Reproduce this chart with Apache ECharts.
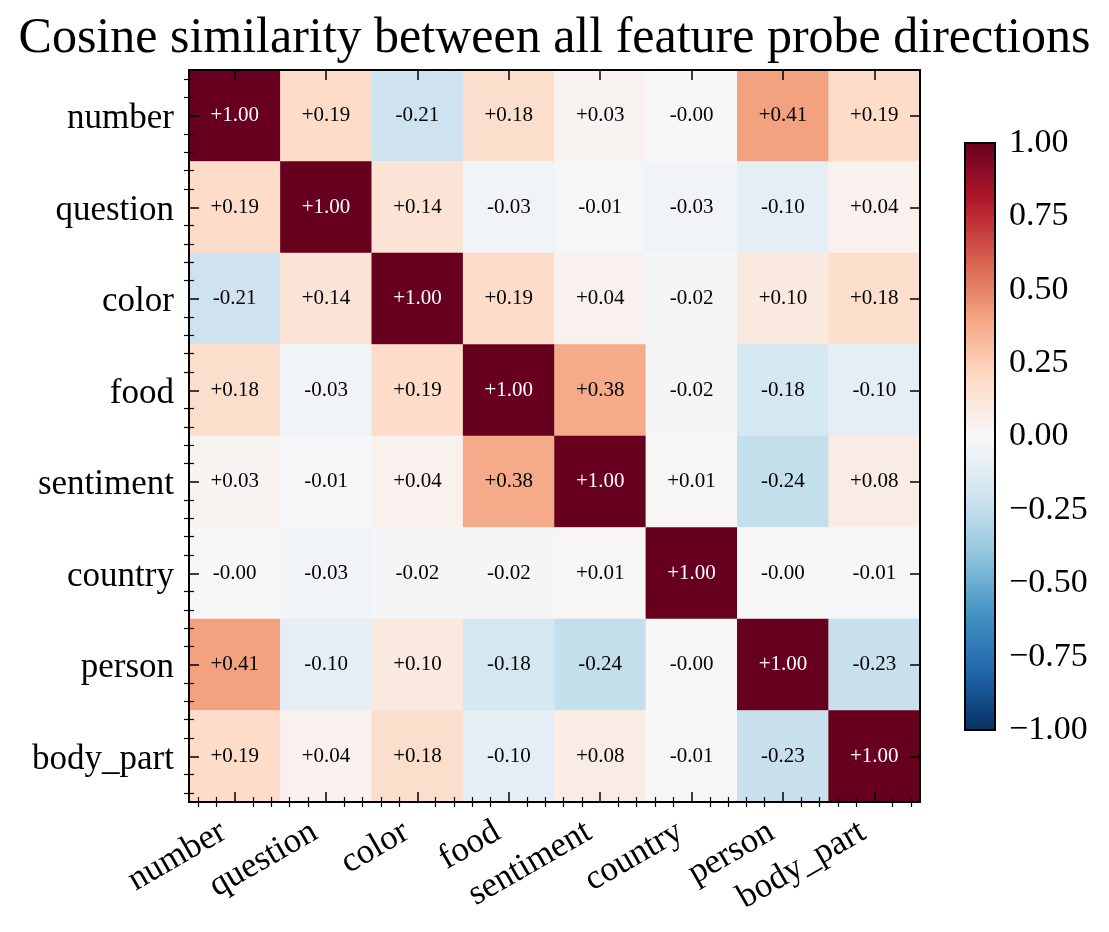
<!DOCTYPE html>
<html>
<head>
<meta charset="utf-8">
<script src="https://cdn.jsdelivr.net/npm/echarts@6/dist/echarts.min.js"></script>
<style>
html,body{margin:0;padding:0;background:#fff;}
#chart{width:1109px;height:932px;}
</style>
</head>
<body>
<div id="chart"></div>
<script>
const categories = ['number','question','color','food','sentiment','country','person','body_part'];
const matrix = [
  [ 1.00,  0.19, -0.21,  0.18,  0.03, -0.002,  0.41,  0.19],
  [ 0.19,  1.00,  0.14, -0.03, -0.01, -0.03, -0.10,  0.04],
  [-0.21,  0.14,  1.00,  0.19,  0.04, -0.02,  0.10,  0.18],
  [ 0.18, -0.03,  0.19,  1.00,  0.38, -0.02, -0.18, -0.10],
  [ 0.03, -0.01,  0.04,  0.38,  1.00,  0.01, -0.24,  0.08],
  [-0.002, -0.03, -0.02, -0.02,  0.01,  1.00, -0.002, -0.01],
  [ 0.41, -0.10,  0.10, -0.18, -0.24, -0.002,  1.00, -0.23],
  [ 0.19,  0.04,  0.18, -0.10,  0.08, -0.01, -0.23,  1.00]
];
const colorbarTicks = [-1, -0.75, -0.5, -0.25, 0, 0.25, 0.5, 0.75, 1];
// RdBu_r colormap (low -> high)
const cmap = ['#053061','#2166ac','#4393c3','#92c5de','#d1e5f0','#f7f7f7','#fddbc7','#f4a582','#d6604d','#b2182b','#67001f'];

const FONT = '"Liberation Serif", "DejaVu Serif", serif';
const data = [];
matrix.forEach((row, r) => row.forEach((v, c) => {
  data.push({value: [c, r, v], label: {color: v > 0.5 ? '#ffffff' : '#000000'}});
}));

// minor tick positions in tenths of a cell (major ticks at cell centers)
const minorVals = [];
for (let k = 1; k < 80; k += 2) { if (k % 10 !== 5) minorVals.push(k); }

const gridRect = {left: 189, top: 70, width: 731, height: 732};
const chart = echarts.init(document.getElementById('chart'));

const catAxisCommon = {
  type: 'category', data: categories, z: 10,
  axisLine: {show: true, lineStyle: {color: '#000', width: 2}},
  axisTick: {show: true, inside: true, alignWithLabel: true, length: 10, lineStyle: {color: '#000', width: 1.5}},
  splitLine: {show: false}
};
const minorAxisCommon = {
  type: 'value', min: 0, max: 80, gridIndex: 1, z: 10,
  axisLine: {show: false}, axisLabel: {show: false}, splitLine: {show: false},
  axisTick: {show: true, inside: true, length: 5, customValues: minorVals, lineStyle: {color: '#000', width: 1.2}}
};

const gradStops = cmap.slice().reverse().map((c, i, arr) => ({offset: i / (arr.length - 1), color: c}));

chart.setOption({
  animation: false,
  backgroundColor: '#fff',
  title: {
    text: 'Cosine similarity between all feature probe directions',
    left: 'center', top: 9,
    textStyle: {fontFamily: FONT, fontSize: 50, fontWeight: 'normal', color: '#000'}
  },
  grid: [
    Object.assign({}, gridRect),
    Object.assign({}, gridRect),
    {left: 965, top: 143, width: 30, height: 587, show: true, borderColor: '#000', borderWidth: 2,
     backgroundColor: {type: 'linear', x: 0, y: 0, x2: 0, y2: 1, colorStops: gradStops}}
  ],
  xAxis: [
    Object.assign({}, catAxisCommon, {gridIndex: 0, position: 'bottom',
      axisLabel: {show: true, rotate: 30, margin: 21, padding: [0, 13, 0, 0], fontFamily: FONT, fontSize: 35, color: '#000'}}),
    Object.assign({}, catAxisCommon, {gridIndex: 0, position: 'top', axisLabel: {show: false}}),
    Object.assign({}, minorAxisCommon, {position: 'bottom'}),
    Object.assign({}, minorAxisCommon, {position: 'top'}),
    {type: 'value', gridIndex: 2, min: 0, max: 1, show: false}
  ],
  yAxis: [
    Object.assign({}, catAxisCommon, {gridIndex: 0, position: 'left', inverse: true,
      axisLabel: {show: true, margin: 15, verticalAlign: 'top', lineHeight: 7, fontFamily: FONT, fontSize: 35, color: '#000'}}),
    Object.assign({}, catAxisCommon, {gridIndex: 0, position: 'right', inverse: true, axisLabel: {show: false}}),
    Object.assign({}, minorAxisCommon, {position: 'left'}),
    Object.assign({}, minorAxisCommon, {position: 'right'}),
    {type: 'value', gridIndex: 2, position: 'right', min: -1, max: 1, interval: 0.25,
     axisLine: {show: false}, axisTick: {show: false}, splitLine: {show: false},
     axisLabel: {show: true, margin: 14, fontFamily: FONT, fontSize: 34, color: '#000',
       formatter: v => (v < 0 ? '\u2212' : '') + Math.abs(v).toFixed(2)}}
  ],
  visualMap: {
    type: 'continuous', show: false, min: -1, max: 1, dimension: 2, seriesIndex: 0,
    inRange: {color: cmap}
  },
  series: [{
    type: 'heatmap', xAxisIndex: 0, yAxisIndex: 0, data: data,
    label: {show: true, fontFamily: FONT, fontSize: 21,
      formatter: p => (p.value[2] >= 0 ? '+' : '-') + Math.abs(p.value[2]).toFixed(2)},
    itemStyle: {borderWidth: 0},
    emphasis: {disabled: true}
  }]
});
</script>
</body>
</html>
